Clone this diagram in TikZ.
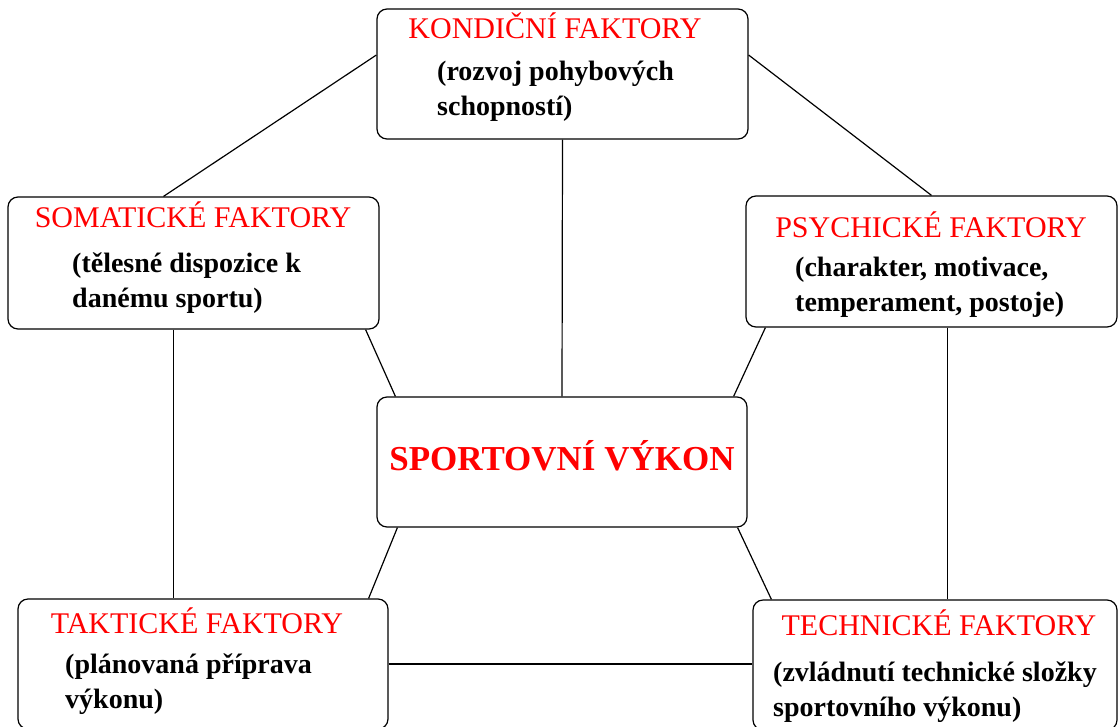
\documentclass[tikz,border=0pt]{standalone}
\usepackage{fontspec}
\setmainfont{Liberation Serif}
\usetikzlibrary{positioning, calc}
\definecolor{Heading}{HTML}{FF0000}
\definecolor{Ink}{HTML}{000000}
\tikzset{
    factorbox/.style={rectangle, rounded corners=10pt, draw=Ink, line width=1.2pt, minimum width=371pt, minimum height=130pt, inner sep=0pt},
    headtext/.style={text=Heading, font=\fontsize{30}{36}\selectfont, inner sep=0pt, anchor=base},
    bodytext/.style={text=Ink, font=\bfseries\fontsize{28}{34.5}\selectfont, align=left, inner sep=0pt, anchor=base west},
    link/.style={draw=Ink, line width=1.2pt},
}

\begin{document}
\begin{tikzpicture}[x=1pt, y=-1pt]
    \clip (0,0) rectangle (1119,726);

    % Boxes
    \node[factorbox] (kond) at (562.5,74) {};
    \node[factorbox, minimum height=132pt] (soma) at (193.5,263) {};
    \node[factorbox, minimum height=131pt] (psych) at (931.5,261.5) {};
    \node[factorbox, minimum width=370pt] (vykon) at (562,462) {};
    \node[factorbox, minimum width=370pt] (takt) at (203,664) {};
    \node[factorbox, minimum width=364pt] (tech) at (935,665) {};

    % Texts (body nodes sit on the baseline of their last line)
    \node[headtext] (kondH) at (555,38) {KONDIČNÍ FAKTORY};
    \node[bodytext] (kondB) at (437,115) {(rozvoj pohybových\\schopností)};
    \node[headtext] (somaH) at (193,227) {SOMATICKÉ FAKTORY};
    \node[bodytext] (somaB) at (72,307) {(tělesné dispozice k\\danému sportu)};
    \node[headtext] (psychH) at (931,237) {PSYCHICKÉ FAKTORY};
    \node[bodytext] (psychB) at (795,311) {(charakter, motivace,\\temperament, postoje)};
    \node[headtext, font=\bfseries\fontsize{35}{40}\selectfont] (vykonH) at (562,470) {SPORTOVNÍ VÝKON};
    \node[headtext] (taktH) at (197,633) {TAKTICKÉ FAKTORY};
    \node[bodytext] (taktB) at (65,708) {(plánovaná příprava\\výkonu)};
    \node[headtext] (techH) at (939,635) {TECHNICKÉ FAKTORY};
    \node[bodytext] (techB) at (773,716) {(zvládnutí technické složky\\sportovního výkonu)};

    % Links
    \draw[link] ([yshift=19pt]kond.west) -- ([xshift=-30pt]soma.north);
    \draw[link] ([yshift=19pt]kond.east) -- (psych.north);
    \draw[link] (kond.south) -- (vykon.north);
    \draw[link] ([xshift=-14pt]soma.south east) -- ([xshift=19pt]vykon.north west);
    \draw[link] ([xshift=20pt]psych.south west) -- ([xshift=-14pt]vykon.north east);
    \draw[link] ([xshift=21pt]vykon.south west) -- ([xshift=-20pt]takt.north east);
    \draw[link] ([xshift=-10pt]vykon.south east) -- ([xshift=19pt]tech.north west);
    \draw[link] ([xshift=-20pt]soma.south) -- ([xshift=-20pt]soma.south |- takt.north);
    \draw[link] ([xshift=16pt]psych.south) -- ([xshift=16pt]psych.south |- tech.north);
    \draw[link] (takt.east) -- (takt.east -| tech.west);
\end{tikzpicture}
\end{document}
